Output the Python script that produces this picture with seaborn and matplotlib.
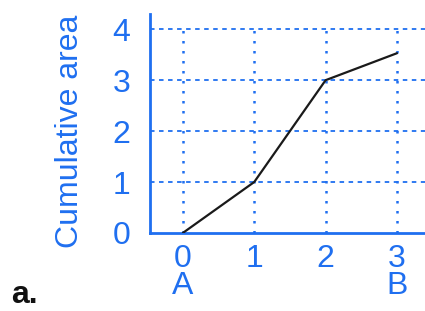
import numpy as np
import pandas as pd
import matplotlib
matplotlib.use('Agg')
import matplotlib.pyplot as plt
import seaborn as sns

# data
xs = [0, 1, 2, 3]
cum_area = [0, 1, 3, 3.53]
xtick_labels = ['0\nA', '1', '2', '3\nB']
yticks = [0, 1, 2, 3, 4]

blue = '#1f6ff0'
sns.set_style('white')
plt.rcParams['font.family'] = ['Liberation Sans', 'DejaVu Sans']

fig = plt.figure(figsize=(4.25, 3.11), dpi=100)
ax = fig.add_axes([0.353, 0.251, 0.66, 0.704])

df = pd.DataFrame({'x': xs, 'y': cum_area})
# grid
ax.hlines(yticks[1:], -0.46, 3.5, colors=blue, linestyles=(0, (2.5, 2.5)), linewidth=1.3, zorder=1)
ax.vlines(xs, 0, 4, colors=blue, linestyles=(0, (1, 3)), linewidth=1.8, zorder=1)
sns.lineplot(data=df, x='x', y='y', color='#1a1a1a', linewidth=1.6, ax=ax, zorder=3)

ax.set_xlim(-0.46, 3.47)
ax.set_ylim(0, 4.3)
ax.set_xticks(xs)
ax.set_xticklabels(xtick_labels, fontsize=23, color=blue, linespacing=0.85)
ax.set_yticks(yticks)
ax.set_yticklabels([str(v) for v in yticks], fontsize=23, color=blue)
ax.tick_params(axis='y', length=0, pad=14)
ax.tick_params(axis='x', length=0, pad=8)
ax.set_xlabel('')
ax.set_ylabel('Cumulative area', fontsize=23, color=blue)
ax.yaxis.set_label_coords(-0.232, 0.466)
for s in ['top', 'right']:
    ax.spines[s].set_visible(False)
for s in ['left', 'bottom']:
    ax.spines[s].set_color(blue)
    ax.spines[s].set_linewidth(2)

fig.text(0.025, 0.025, 'a.', fontsize=23, fontweight='bold', color='#111111')
fig.savefig('out.png', dpi=100)
